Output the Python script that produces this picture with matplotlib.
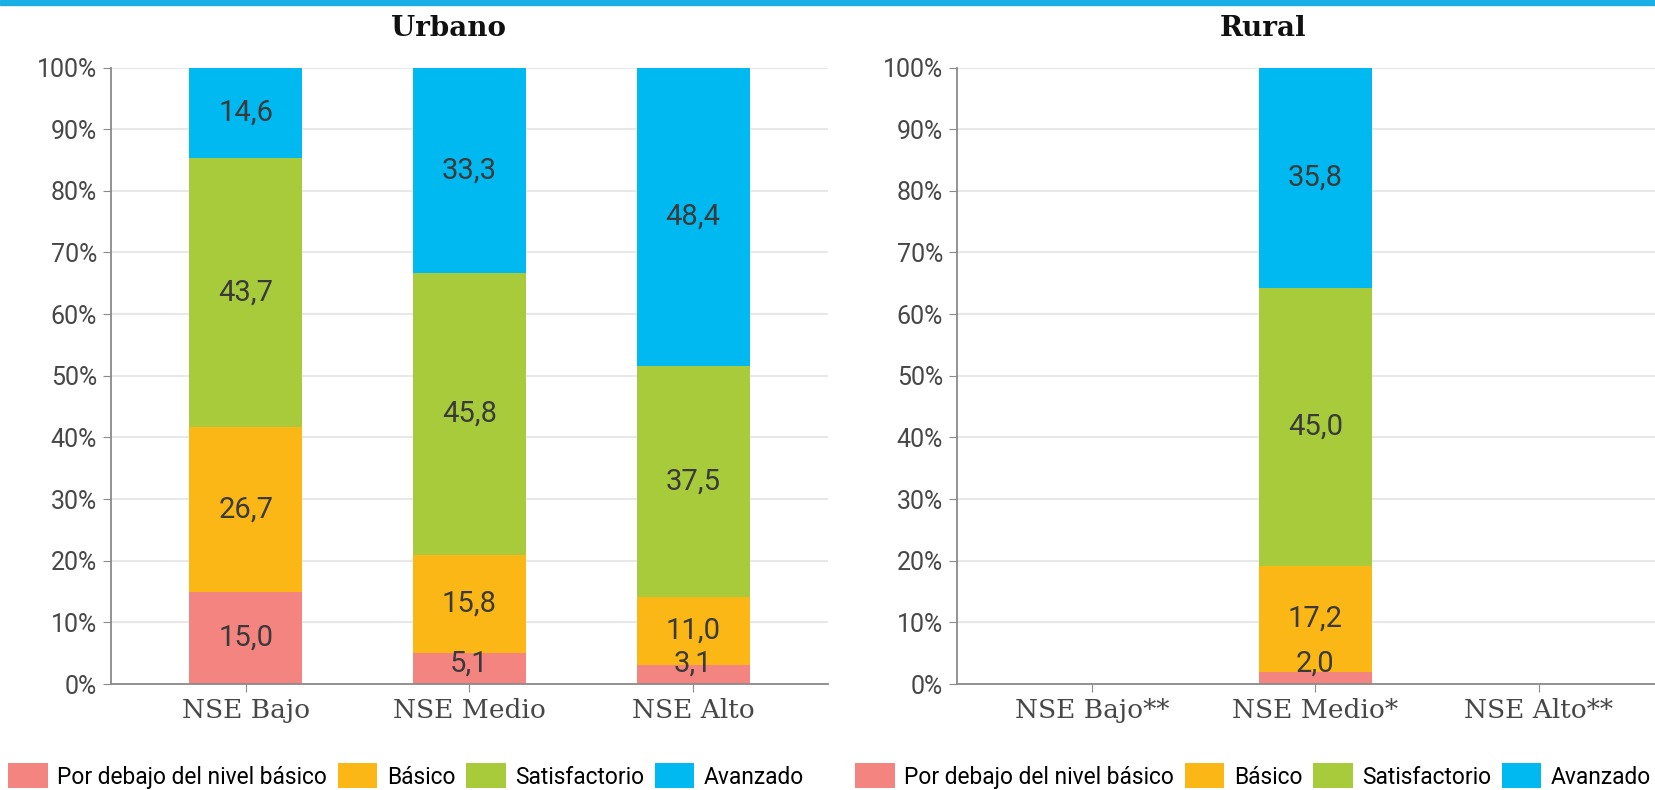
import numpy as np
import matplotlib
matplotlib.use("Agg")
import matplotlib.pyplot as plt
from matplotlib.patches import Patch, Rectangle

# data
niveles = ["Por debajo del nivel básico", "Básico", "Satisfactorio", "Avanzado"]
colores = ["#F4847F", "#FBB715", "#A7CB3A", "#00B9F1"]

urbano_cats = ["NSE Bajo", "NSE Medio", "NSE Alto"]
urbano_debajo = [15.0, 5.1, 3.1]
urbano_basico = [26.7, 15.8, 11.0]
urbano_satisf = [43.7, 45.8, 37.5]
urbano_avanz = [14.6, 33.3, 48.4]

rural_cats = ["NSE Bajo**", "NSE Medio*", "NSE Alto**"]
rural_debajo = [np.nan, 2.0, np.nan]
rural_basico = [np.nan, 17.2, np.nan]
rural_satisf = [np.nan, 45.0, np.nan]
rural_avanz = [np.nan, 35.8, np.nan]

W, H = 1655, 790
fig = plt.figure(figsize=(W / 100, H / 100), dpi=100)

tick_col = "#474747"


def draw_panel(ax, cats, series, title, xlim, title_x):
    x = np.arange(len(cats))
    bottom = np.zeros(len(cats))
    for vals, col in zip(series, colores):
        vals = np.array(vals, dtype=float)
        ax.bar(x, np.nan_to_num(vals), width=0.505, bottom=bottom, color=col, zorder=2)
        for xi, v, b in zip(x, vals, bottom):
            if np.isnan(v):
                continue
            y = max(b + v / 2, 3.3)
            ax.text(xi, y, f"{v:.1f}".replace(".", ","), ha="center", va="center",
                    fontsize=21, color="#3a3a3a", family="Roboto", zorder=3)
        bottom = bottom + np.nan_to_num(vals)

    ax.set_ylim(0, 100)
    ax.set_xlim(*xlim)
    ax.set_yticks(np.arange(0, 101, 10))
    ax.set_yticklabels([f"{t}%" for t in range(0, 101, 10)], fontsize=18,
                       color=tick_col, family="Roboto")
    ax.set_xticks(x)
    ax.set_xticklabels(cats, fontsize=19, color=tick_col, family="DejaVu Serif")
    ax.grid(axis="y", color="#e4e4e4", linewidth=1.2, zorder=0)
    for s in ["top", "right"]:
        ax.spines[s].set_visible(False)
    for s in ["left", "bottom"]:
        ax.spines[s].set_color("#8a8a8a")
        ax.spines[s].set_linewidth(1.3)
    ax.tick_params(axis="y", length=6, color="#8a8a8a", pad=4)
    ax.tick_params(axis="x", length=6, color="#8a8a8a", pad=4)
    fig.text(title_x, 1 - 28 / H, title, ha="center", va="center", fontsize=20,
             fontweight="bold", family="DejaVu Serif", color="#111111")


ax1 = fig.add_axes([111 / W, 106 / H, (828 - 111) / W, 616.5 / H])
draw_panel(ax1, urbano_cats, [urbano_debajo, urbano_basico, urbano_satisf, urbano_avanz],
           "Urbano", (-0.603, 2.603), 448 / W)

ax2 = fig.add_axes([957 / W, 106 / H, (W - 957) / W, 616.5 / H])
draw_panel(ax2, rural_cats, [rural_debajo, rural_basico, rural_satisf, rural_avanz],
           "Rural", (-0.603, 2.52), 1263 / W)

# top blue rule
fig.patches.append(Rectangle((0, 1 - 5 / H), 1, 5 / H, transform=fig.transFigure,
                             color="#1AB0E6", zorder=5))

handles = [Patch(facecolor=c, edgecolor="none") for c in colores]
for x0 in [8 / W, 855 / W]:
    fig.legend(handles, niveles, loc="center left", bbox_to_anchor=(x0, 1 - 776 / H),
               ncol=4, frameon=False, borderpad=0, borderaxespad=0,
               handlelength=1.75, handleheight=1.3, handletextpad=0.42,
               columnspacing=0.45, prop={"family": "Roboto", "size": 16.4})

fig.savefig("out.png", dpi=100)
